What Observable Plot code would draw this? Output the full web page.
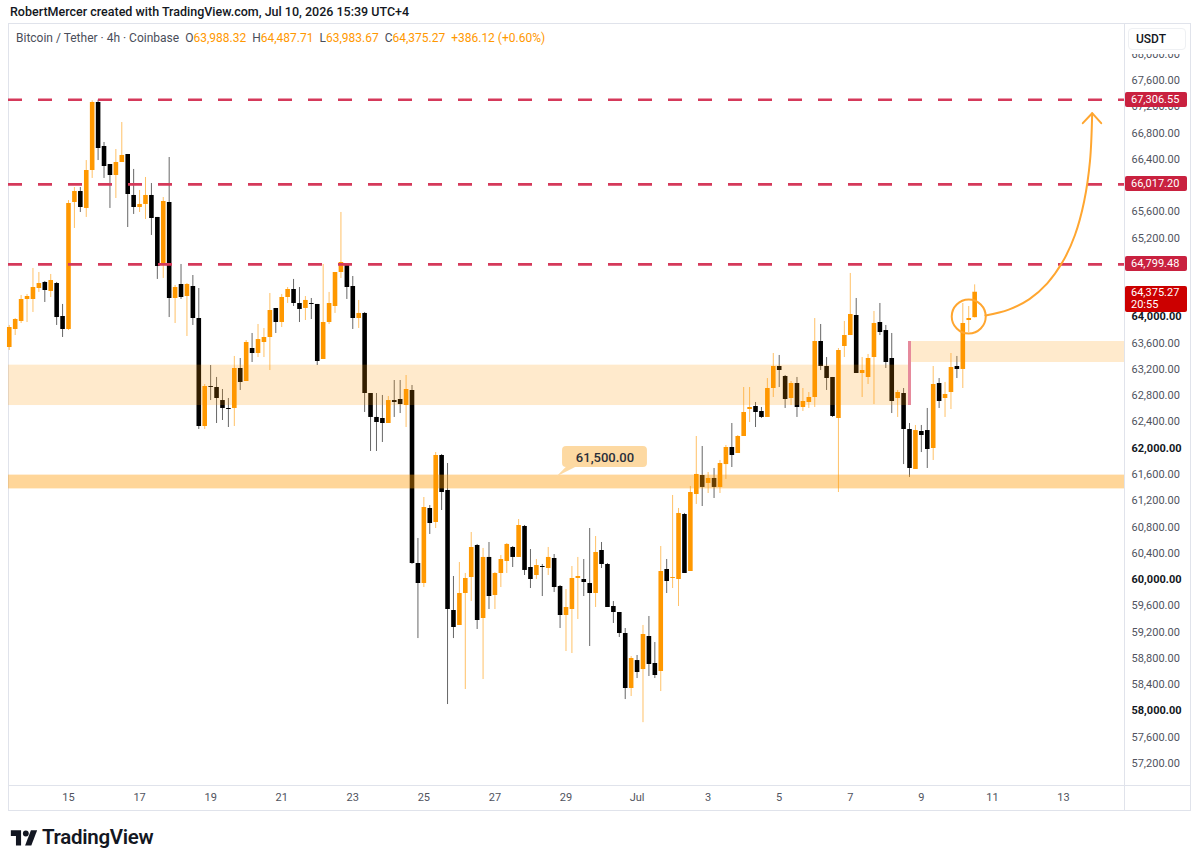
<!DOCTYPE html>
<html><head><meta charset="utf-8">
<script src="https://cdn.jsdelivr.net/npm/d3@7"></script>
<script src="https://cdn.jsdelivr.net/npm/@observablehq/plot@0.6"></script>
<style>
body{margin:0;background:#fff;font-family:Roboto,"Open Sans",sans-serif;width:1200px;height:865px;position:relative;overflow:hidden}
#title{position:absolute;left:10px;top:4px;font-size:12.5px;color:#131722;font-weight:500;white-space:nowrap}
#pane{position:absolute;left:8px;top:23px;width:1183px;height:788px;border:1px solid #e0e3eb;box-sizing:border-box}
#vsep{position:absolute;left:1124px;top:23px;width:1px;height:788px;background:#e0e3eb}
#hsep{position:absolute;left:8px;top:785px;width:1183px;height:1px;background:#e0e3eb}
#chart{position:absolute;left:0;top:23px}
#legend{position:absolute;left:16px;top:31px;font-size:12px;color:#4a4e5a;white-space:nowrap}
#legend .v{color:#ff9800}
#legend .g{margin-left:6px}
#axiscover{position:absolute;left:1125px;top:24px;width:65px;height:30px;background:#fff}
#usdt{position:absolute;left:1128px;top:28px;width:58px;height:22px;background:#fff;border:1px solid #eef0f3;border-radius:4px;box-sizing:border-box;font-size:12px;color:#131722;font-weight:500;line-height:20px;padding-left:7px}
.tag{position:absolute;left:1125px;width:62px;height:15px;color:#fff;font-size:11px;line-height:15px;padding-left:6px;box-sizing:border-box;border-radius:2px;font-family:Roboto,sans-serif}
#logo{position:absolute;left:10px;top:825px;display:flex;align-items:center;gap:4px;font-size:20.5px;font-weight:600;color:#131722;letter-spacing:-0.3px}
</style></head>
<body>
<div id="title">RobertMercer created with TradingView.com, Jul 10, 2026 15:39 UTC+4</div>
<div id="pane"></div>
<div id="chart"></div>
<div id="vsep"></div>
<div id="hsep"></div>
<div id="axiscover"></div>
<div id="legend">Bitcoin / Tether · 4h · Coinbase<span class="g">O</span><span class="v">63,988.32</span><span class="g">H</span><span class="v">64,487.71</span><span class="g">L</span><span class="v">63,983.67</span><span class="g">C</span><span class="v">64,375.27</span><span class="v g">+386.12 (+0.60%)</span></div>
<div id="usdt">USDT</div>
<div id="logo"><svg width="28" height="19" viewBox="0 0 36 26"><path fill="#131722" d="M14 24H7V11H0V3h14v21z"/><circle fill="#131722" cx="20.5" cy="7.5" r="4"/><path fill="#131722" d="M28 24h-8.5l8-21h8.5z"/></svg><span>TradingView</span></div>
<script>
// ---- candle data (4h, first candle 2026-06-13 08:00 UTC) ----
const firstCandle = Date.UTC(2026, 5, 13, 8);
const candleHours = 4;
const opens = [
63534,63808,63930,64265,64265,64432,64524,64387,64508,64006,
63808,65742,65909,65651,66229,67265,66595,66321,66153,66351,
66473,65849,65666,65712,65849,65514,64798,65742,64280,64493,
64310,64463,63975,62330,62940,62924,62726,62605,62605,63214,
63016,63518,63442,63610,63686,64128,63914,64295,64417,64204,
64128,64204,64189,63351,63914,64158,64676,64782,64463,63975,
64052,62833,62468,62452,62376,62726,62742,62650,62879,60244,
59939,61082,60868,61889,61356,59528,59300,59787,60031,60518,
59406,60336,59757,60092,60275,60488,60336,60808,60183,60061,
60198,60168,60320,59894,59452,59543,60016,60000,59939,59787,
60442,60229,59589,59498,59178,58340,58766,58629,59132,58721,
58599,60153,60016,60000,60990,60122,61295,61584,61463,61539,
61402,61751,62011,61919,62178,62589,62635,62559,62468,62909,
63244,63092,62757,62985,62620,62696,62772,63625,63244,63077,
62452,63549,63716,64021,63138,63077,63381,63914,63792,63366,
62757,62833,62285,61676,62254,62269,61995,62985,62757,62848,
63244,63199,63945,63988.32];
const highs = [
63869,63975,64326,64341,64737,64676,64539,64646,64524,64189,
65772,65970,65970,66381,67290,67300,66656,66321,66549,66960,
66473,66245,65925,66123,66031,65514,65818,66427,64478,64798,
64508,64630,64432,62970,63259,63077,62894,62757,63397,63366,
63640,63747,63884,63823,64356,64128,64341,64447,64570,64447,
64310,64280,64189,64798,64372,64676,65590,64782,64615,64250,
64067,62833,62833,62803,62787,63031,63031,63107,62955,60625,
61249,61127,61934,61904,61767,60046,60259,60092,60716,60534,
60473,60564,60107,60366,60549,60503,60914,60823,60457,60305,
60229,60488,60381,59909,59848,60198,60336,60305,60777,60655,
60564,60244,59665,59498,59254,58827,58843,59300,59437,59041,
60503,60305,61280,61082,61006,61417,62178,62026,61630,61691,
61813,62041,62376,62193,62924,62924,62696,62620,63061,63442,
63412,63107,63016,63077,62909,62848,63975,63884,63381,63077,
63518,63930,64661,64280,63381,63427,64082,64204,63869,63747,
62879,62909,62376,62346,62346,62605,63244,63061,63001,63442,
63397,64204,64158,64487.71];
const lows = [
63488,63716,63899,63914,64067,64372,64219,64295,63869,63686,
63792,65346,65590,65514,66108,66381,66108,65651,65803,66351,
65361,65560,65590,65483,65240,64570,64585,63990,63899,64265,
63701,63869,62285,62285,62726,62376,62422,62315,62330,62879,
63016,63305,63381,63381,63183,63747,63838,64204,64158,63914,
63945,63960,63259,63351,63884,64052,64585,64265,63808,63823,
62544,61950,61950,62087,62376,62468,62528,62315,60230,59101,
59878,60686,60777,61051,58096,59101,59300,58325,59665,59239,
58477,59543,59543,59878,60092,60183,60336,60061,59863,60000,
59741,60061,59802,59254,58904,58873,59391,59741,58980,59574,
60168,59574,59330,59117,58172,58218,58492,57820,58523,58492,
58294,59787,59863,59589,60092,60122,61143,61112,61310,61234,
61310,61524,61706,61919,62178,62391,62315,62452,62468,62772,
62924,62605,62650,62468,62559,62605,62620,63183,62879,62468,
61325,63381,63716,63138,62772,62970,62665,63716,63214,62528,
62468,61751,61554,61676,61934,61691,61813,62605,62468,62589,
63061,62909,63762,63983.67];
const closes = [
63838,63960,64265,64310,64447,64508,64402,64554,63990,63808,
65727,65909,65666,66229,67265,66564,66290,66153,66351,66458,
65864,65666,65712,65849,65498,64767,65757,64280,64447,64295,
64493,63975,62330,62940,62925,62757,62605,62589,63214,63001,
63610,63442,63655,63686,64097,63914,64295,64417,64204,64113,
64250,64189,63320,63914,64204,64676,64828,64447,63975,64052,
62833,62468,62391,62376,62726,62696,62665,62894,60244,59939,
61097,60853,61889,61325,59543,59269,59787,60016,60488,59376,
60336,59741,60092,60305,60534,60336,60823,60138,60000,60214,
60183,60336,59878,59452,59574,60016,60046,59955,59787,60412,
60229,59574,59498,59178,58340,58797,58584,59163,58706,58538,
60122,59970,60031,61006,60092,61325,61600,61402,61539,61402,
61767,62011,61889,62178,62544,62620,62544,62468,62909,63244,
63183,62742,62985,62620,62711,62772,63625,63244,63061,62483,
63488,63716,64036,63138,63183,63366,63899,63762,63305,62711,
62848,62285,61691,62269,62193,61980,62970,62711,62818,63229,
63199,63899,63975,64375.27];

// ---- levels, zones and annotation ----
const resistanceLevels = [67306.55, 66017.20, 64799.48];
const resistanceLabels = ["67,306.55", "66,017.20", "64,799.48"];
const lastPrice = 64375.27, lastPriceLabel = "64,375.27", countdown = "20:55";
const zoneSplit = "2026-07-08T16:00Z";
const zoneLeft = [62650, 63265];
const zoneRight = [63305, 63625];
const supportBand = [61380, 61590];
const supportLabel = "61,500.00";
const supportLabelBox = {x1: "2026-06-28T21:40Z", x2: "2026-07-01T07:00Z", y1: 61706, y2: 62026, tx: "2026-06-30T02:20Z", ty: 61856};
const supportLabelTail = [["2026-06-29T00:00Z", 61716], ["2026-06-28T17:30Z", 61569], ["2026-06-29T06:30Z", 61716]];
const circleMark = {date: "2026-07-10T08:00Z", price: 64006};
const arrowCurve = [
  ["2026-07-10T19:20Z", 64021], ["2026-07-11T11:00Z", 64111], ["2026-07-12T01:00Z", 64271],
  ["2026-07-12T13:03Z", 64511], ["2026-07-12T23:20Z", 64834], ["2026-07-13T07:45Z", 65247],
  ["2026-07-13T13:55Z", 65757], ["2026-07-13T17:53Z", 66372], ["2026-07-13T19:22Z", 67102]];
const arrowHead = [["2026-07-13T13:02Z", 66950], ["2026-07-13T19:22Z", 67102], ["2026-07-14T01:28Z", 66950]];

// ---- axes ----
const xTickDates = ["2026-06-15","2026-06-17","2026-06-19","2026-06-21","2026-06-23","2026-06-25","2026-06-27","2026-06-29","2026-07-01","2026-07-03","2026-07-05","2026-07-07","2026-07-09","2026-07-11","2026-07-13"];
const xTickLabels = ["15","17","19","21","23","25","27","29","Jul","3","5","7","9","11","13"];
const yTicksNormal = [57200,57600,58400,58800,59200,59600,60400,60800,61200,61600,62400,62800,63200,63600,64400,64800,65200,65600,66000,66400,66800,67200,67600,68000];
const yTicksBold = [58000,60000,62000,64000];

const ORANGE = "#ff9800", BLACK = "#000000";
const candles = opens.map((o, i) => ({
  date: new Date(firstCandle + i * candleHours * 3600e3),
  open: o, high: highs[i], low: lows[i], close: closes[i],
  color: closes[i] >= o ? ORANGE : BLACK
}));
const xDates = xTickDates.map(d => new Date(d + "T00:00Z"));
const xLabelMap = new Map(xDates.map((d, i) => [+d, xTickLabels[i]]));
const xDomain = [new Date("2026-06-13T07:29Z"), new Date("2026-07-14T17:12Z")];
const P = a => a.map(([d, p]) => ({date: new Date(d), price: p}));
const fmt = d3.format(",.2f");

const chart = Plot.plot({
  width: 1200, height: 788,
  marginLeft: 8, marginRight: 76, marginTop: 0, marginBottom: 26,
  x: {type: "utc", domain: xDomain},
  y: {domain: [56863, 68468]},
  style: {fontFamily: "Roboto, sans-serif", background: "transparent", overflow: "visible"},
  marks: [
    Plot.ruleX(candles, {x: "date", y1: "low", y2: "high", stroke: "color", strokeOpacity: 0.6, strokeWidth: 1}),
    Plot.ruleX(candles, {x: "date", y1: "open", y2: "close", stroke: "color", strokeWidth: 4.6}),
    Plot.rect([{x1: xDomain[0], x2: new Date(zoneSplit), y1: zoneLeft[0], y2: zoneLeft[1]}], {x1: "x1", x2: "x2", y1: "y1", y2: "y2", fill: ORANGE, fillOpacity: 0.2}),
    Plot.rect([{x1: new Date(zoneSplit), x2: xDomain[1], y1: zoneRight[0], y2: zoneRight[1]}], {x1: "x1", x2: "x2", y1: "y1", y2: "y2", fill: ORANGE, fillOpacity: 0.2}),
    Plot.ruleX([new Date(zoneSplit)], {y1: zoneLeft[0], y2: zoneRight[1], stroke: "#e68a9c", strokeWidth: 3}),
    Plot.rect([{x1: xDomain[0], x2: xDomain[1], y1: supportBand[0], y2: supportBand[1]}], {x1: "x1", x2: "x2", y1: "y1", y2: "y2", fill: ORANGE, fillOpacity: 0.4}),
    Plot.line(P(supportLabelTail), {x: "date", y: "price", fill: "#fdd9a2", stroke: "none"}),
    Plot.rect([supportLabelBox], {x1: d => new Date(d.x1), x2: d => new Date(d.x2), y1: "y1", y2: "y2", fill: "#fdd9a2", rx: 4}),
    Plot.text([supportLabelBox], {x: d => new Date(d.tx), y: "ty", text: () => supportLabel, fill: "#2a2e39", fontSize: 13, fontWeight: 500}),
    Plot.ruleY(resistanceLevels, {stroke: "#d5395a", strokeWidth: 2.6, strokeDasharray: "14,16"}),
    Plot.dot([circleMark], {x: d => new Date(d.date), y: "price", r: 17, stroke: "#ffa630", strokeWidth: 2, fill: "none"}),
    Plot.line(P(arrowCurve), {x: "date", y: "price", curve: "catmull-rom", stroke: "#ffa630", strokeWidth: 2}),
    Plot.line(P(arrowHead), {x: "date", y: "price", stroke: "#ffa630", strokeWidth: 2}),
    Plot.axisX(xDates, {tickSize: 0, tickPadding: 8, fontSize: 11, fill: "#50535e", tickFormat: d => xLabelMap.get(+d)}),
    Plot.axisY(yTicksNormal, {anchor: "right", tickSize: 0, tickPadding: 7, fontSize: 11, fill: "#50535e", tickFormat: fmt}),
    Plot.axisY(yTicksBold, {anchor: "right", tickSize: 0, tickPadding: 7, fontSize: 11, fill: "#131722", fontWeight: "bold", tickFormat: fmt})
  ]
});
document.getElementById("chart").appendChild(chart);

// price tags on the right axis, positioned with the chart's y scale
const ys = chart.scale("y");
const top0 = 23;
resistanceLevels.forEach((lv, i) => {
  const el = document.createElement("div");
  el.className = "tag";
  el.style.background = "#c9213f";
  el.style.top = (top0 + ys.apply(lv) - 7.5) + "px";
  el.textContent = resistanceLabels[i];
  document.body.appendChild(el);
});
const cur = document.createElement("div");
cur.className = "tag";
cur.style.background = "#cc0000";
cur.style.height = "26px";
cur.style.lineHeight = "12px";
cur.style.paddingTop = "1px";
cur.style.top = (top0 + ys.apply(lastPrice) - 6) + "px";
cur.innerHTML = lastPriceLabel + "<br>" + countdown;
document.body.appendChild(cur);
</script>
</body></html>
